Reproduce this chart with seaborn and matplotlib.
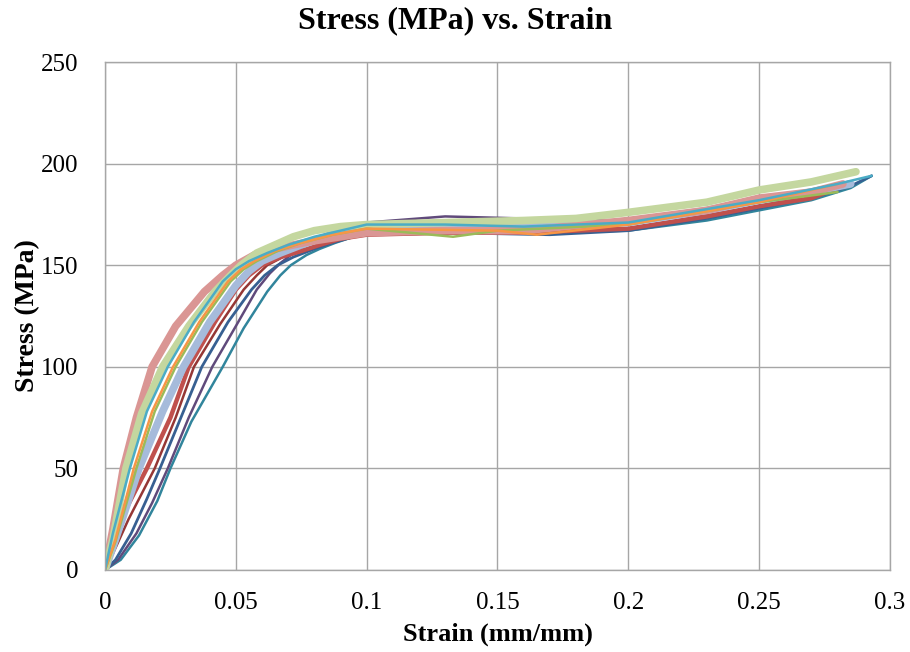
import matplotlib
matplotlib.use("Agg")
import matplotlib.pyplot as plt
import numpy as np
import pandas as pd
import seaborn as sns

# strain (mm/mm) / stress (MPa), one pair per specimen
teal_strain = [0, 0.006, 0.013, 0.020, 0.025, 0.033, 0.045, 0.053, 0.062, 0.067, 0.071, 0.077, 0.082, 0.088, 0.095, 0.10, 0.13, 0.16, 0.20, 0.23, 0.25, 0.27, 0.285, 0.293]
teal_stress = [0, 5, 17, 34, 50, 73, 100, 119, 137, 145, 150, 155, 158, 161, 164, 166, 166, 166, 167, 172, 177, 182, 188, 194]

purple_strain = [0, 0.005, 0.012, 0.018, 0.024, 0.032, 0.041, 0.050, 0.058, 0.063, 0.067, 0.072, 0.078, 0.084, 0.090, 0.10, 0.13, 0.16, 0.20, 0.23, 0.25, 0.27, 0.284]
purple_stress = [0, 5, 18, 33, 50, 75, 100, 120, 138, 146, 151, 156, 161, 165, 168, 171, 174, 173, 172, 177, 183, 187, 191]

blue_strain = [0, 0.004, 0.010, 0.016, 0.021, 0.029, 0.037, 0.047, 0.056, 0.061, 0.066, 0.072, 0.080, 0.087, 0.095, 0.10, 0.13, 0.17, 0.20, 0.23, 0.25, 0.27, 0.285, 0.293]
blue_stress = [0, 5, 18, 35, 50, 75, 100, 122, 138, 145, 150, 154, 158, 161, 164, 166, 166, 165, 167, 173, 178, 183, 189, 194]

dkred_strain = [0, 0.003, 0.009, 0.019, 0.027, 0.034, 0.044, 0.053, 0.058, 0.062, 0.068, 0.076, 0.083, 0.09, 0.10, 0.15, 0.20, 0.25, 0.28]
dkred_stress = [0, 8, 25, 50, 75, 100, 121, 138, 145, 150, 154, 157, 160, 163, 165, 166, 168, 179, 188]

red_strain = [0, 0.002, 0.008, 0.016, 0.025, 0.032, 0.042, 0.050, 0.055, 0.060, 0.067, 0.075, 0.082, 0.090, 0.10, 0.13, 0.16, 0.20, 0.23, 0.25, 0.27, 0.282]
red_stress = [0, 12, 30, 50, 75, 100, 122, 138, 145, 150, 154, 157, 160, 163, 165, 166, 166, 168, 174, 179, 183, 189]

ltblue_strain = [0, 0.004, 0.013, 0.022, 0.030, 0.040, 0.050, 0.055, 0.060, 0.067, 0.075, 0.082, 0.090, 0.10, 0.13, 0.16, 0.20, 0.23, 0.25, 0.27, 0.285]
ltblue_stress = [0, 15, 50, 78, 100, 122, 140, 147, 152, 156, 160, 163, 166, 168, 168, 169, 171, 177, 182, 186, 190]

pink_strain = [0, 0.003, 0.007, 0.012, 0.018, 0.027, 0.038, 0.045, 0.050, 0.057, 0.065, 0.072, 0.080, 0.090, 0.10, 0.13, 0.16, 0.20, 0.23, 0.25, 0.27, 0.282]
pink_stress = [0, 20, 50, 75, 100, 120, 137, 145, 150, 155, 158, 160, 162, 164, 166, 167, 167, 172, 177, 183, 186, 190]

ltgreen_strain = [0, 0.003, 0.008, 0.014, 0.022, 0.032, 0.042, 0.048, 0.052, 0.058, 0.065, 0.072, 0.080, 0.090, 0.10, 0.13, 0.16, 0.18, 0.20, 0.23, 0.25, 0.27, 0.287]
ltgreen_stress = [0, 15, 50, 77, 100, 120, 137, 145, 150, 156, 160, 164, 167, 169, 170, 171, 172, 173, 176, 181, 187, 191, 196]

green_strain = [0, 0.004, 0.012, 0.019, 0.027, 0.037, 0.048, 0.053, 0.058, 0.066, 0.075, 0.087, 0.10, 0.133, 0.15, 0.20, 0.25, 0.28]
green_stress = [0, 14, 50, 78, 100, 122, 142, 148, 152, 157, 161, 165, 168, 164, 167, 170, 181, 186]

orange_strain = [0, 0.004, 0.011, 0.018, 0.026, 0.036, 0.047, 0.052, 0.057, 0.065, 0.075, 0.087, 0.10, 0.15, 0.165, 0.20, 0.25, 0.28]
orange_stress = [0, 15, 50, 78, 100, 122, 142, 148, 152, 157, 161, 165, 168, 167, 165, 170, 181, 190]

aqua_strain = [0, 0.003, 0.0095, 0.016, 0.024, 0.034, 0.045, 0.050, 0.055, 0.062, 0.070, 0.080, 0.090, 0.10, 0.13, 0.16, 0.20, 0.25, 0.28, 0.293]
aqua_stress = [0, 18, 50, 78, 100, 122, 142, 148, 152, 156, 160, 164, 167, 170, 170, 169, 171, 182, 190, 194]

# drawing order, colour, width
curves = [
    (teal_strain, teal_stress, "#31859C", 1.8),
    (purple_strain, purple_stress, "#604A7B", 1.8),
    (blue_strain, blue_stress, "#376092", 2.0),
    (dkred_strain, dkred_stress, "#953735", 1.8),
    (red_strain, red_stress, "#C0504D", 3.2),
    (ltblue_strain, ltblue_stress, "#A6BBDB", 5.5),
    (pink_strain, pink_stress, "#DA9694", 5.5),
    (ltgreen_strain, ltgreen_stress, "#C4D79F", 5.5),
    (green_strain, green_stress, "#9BBB59", 1.8),
    (orange_strain, orange_stress, "#F79646", 1.8),
    (aqua_strain, aqua_stress, "#4BACC6", 1.8),
]

sns.set_style("white")
plt.rcParams['font.family'] = ['Liberation Serif', 'DejaVu Serif']
plt.rcParams['text.color'] = 'black'
plt.rcParams['axes.labelcolor'] = 'black'
plt.rcParams['xtick.color'] = 'black'
plt.rcParams['ytick.color'] = 'black'

fig = plt.figure(figsize=(9.1, 6.52), dpi=100)
ax = fig.add_axes([0.1154, 0.1258, 0.8626, 0.7791])

for xs, ys, col, lw in curves:
    df = pd.DataFrame({"strain": xs, "stress": ys})
    sns.lineplot(data=df, x="strain", y="stress", color=col, linewidth=lw,
                 sort=False, estimator=None, ax=ax)

ax.set_xlim(0, 0.3)
ax.set_ylim(0, 250)
ax.set_xticks(np.arange(0, 0.31, 0.05))
ax.set_xticklabels(["0", "0.05", "0.1", "0.15", "0.2", "0.25", "0.3"])
ax.set_yticks(np.arange(0, 251, 50))
ax.grid(True, color="#A6A6A6", linewidth=1)
ax.set_axisbelow(True)
for s in ax.spines.values():
    s.set_color("#A6A6A6")
    s.set_linewidth(1)
ax.tick_params(axis="both", length=0, labelsize=18)
ax.tick_params(axis="x", pad=16)
ax.tick_params(axis="y", pad=19)

ax.set_xlabel("Strain (mm/mm)", fontsize=19, fontweight="bold", labelpad=6)
ax.set_ylabel("Stress (MPa)", fontsize=20, fontweight="bold", labelpad=1)
fig.suptitle("Stress (MPa) vs. Strain", fontsize=23, fontweight="bold", y=0.99)

fig.savefig("out.png", dpi=100)
